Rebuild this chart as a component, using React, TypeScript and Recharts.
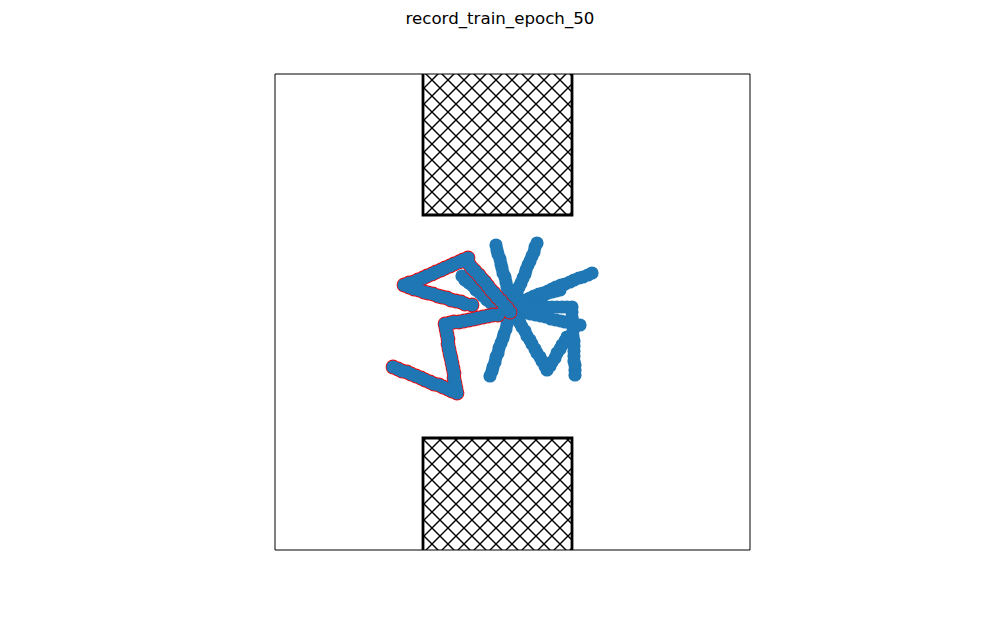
import React from "react";
import { ScatterChart, Scatter, XAxis, YAxis, ReferenceArea } from "recharts";

const TITLE = "record_train_epoch_50";
const X_DOMAIN: [number, number] = [0, 475];
const Y_DOMAIN: [number, number] = [0, 476];

// obstacles (hatched boxes)
const obstacleX1 = [148, 148];
const obstacleX2 = [297, 297];
const obstacleY1 = [335, -4];
const obstacleY2 = [480, 112];

// blue trajectories
const armUp1: [number, number][] = [[237,245],[236,250],[235,254],[233,259],[232,263],[231,268],[230,273],[228,277],[227,282],[226,286],[225,291],[223,296],[222,300],[221,305]];
const armUp2: [number, number][] = [[239,249],[241,254],[242,258],[244,263],[246,267],[248,272],[250,276],[251,280],[253,285],[255,289],[257,294],[259,298],[260,303],[262,307]];
const armUpRight1: [number, number][] = [[241,247],[246,249],[250,250],[255,252],[259,254],[264,256],[268,257],[273,259],[277,261],[281,263],[286,265],[290,266],[295,268],[299,270],[304,272],[308,273],[313,275],[317,277]];
const armUpRight2: [number, number][] = [[241,246],[245,248],[249,249],[253,250],[257,251],[261,253],[265,254],[269,255],[273,257],[277,258],[281,259],[285,260]];
const armDownLeft: [number, number][] = [[237,240],[235,235],[234,231],[232,226],[231,221],[229,216],[228,212],[226,207],[224,202],[223,197],[221,193],[220,188],[218,183],[217,179],[215,174]];
const armRight: [number, number][] = [[242,239],[247,238],[252,237],[256,236],[261,235],[266,234],[271,233],[276,231],[281,230],[286,229],[290,228],[295,227],[300,226],[305,225]];
const armRightDown: [number, number][] = [[242,242],[247,242],[252,242],[257,242],[262,242],[267,243],[272,243],[277,243],[282,243],[287,243],[292,243],[297,243],[297,238],[297,233],[298,228],[298,224],[298,219],[298,214],[299,209],[299,204],[299,199],[299,194],[299,189],[300,185],[300,180],[300,175]];
const armV: [number, number][] = [[240,236],[242,231],[245,227],[247,223],[250,219],[252,214],[255,210],[257,206],[260,201],[262,197],[265,193],[267,189],[270,184],[272,180],[275,184],[277,188],[280,192],[282,197],[285,201],[287,205],[290,209],[292,213]];
const armUpLeft: [number, number][] = [[230,234],[226,237],[223,240],[219,244],[216,247],[212,250],[208,254],[205,257],[201,260],[198,264],[194,267],[190,270],[187,274]];

// red-edged trajectories
const redA: [number, number][] = [[235,238],[232,242],[229,245],[226,249],[222,253],[219,257],[216,260],[213,264],[210,268],[207,271],[204,275],[200,279],[197,282],[194,286],[193,292],
  [188,290],[184,288],[179,286],[175,284],[170,282],[166,280],[161,278],[157,276],[152,274],[148,272],[143,270],[139,268],[134,267],[129,265],
  [134,263],[139,261],[144,260],[149,258],[153,257],[158,256],[163,254],[167,253],[172,252],[176,250],[181,249],[186,248],[190,246],[197,245]];
const redB: [number, number][] = [[223,235],[218,235],[213,234],[208,233],[203,232],[199,231],[194,230],[189,229],[184,228],[179,228],[175,227],[170,226],
  [171,221],[172,216],[173,211],[173,206],[174,201],[175,196],[176,192],[177,187],[178,182],[179,177],[179,172],[180,167],[181,162],[182,157],
  [177,159],[173,161],[168,163],[164,165],[159,166],[155,168],[150,170],[146,172],[141,174],[136,176],[132,178],[127,179],[123,181],[118,183]];

const blueArms = [armUp1, armUp2, armUpRight1, armUpRight2, armDownLeft, armRight, armRightDown, armV, armUpLeft];
const redArms = [redB, redA];
const blueData = blueArms.flat().map(([x, y]) => ({ x, y }));
const redData = redArms.flat().map(([x, y]) => ({ x, y }));

const BLUE = "#1f77b4";

const BlueDot = (props: any) => <circle cx={props.cx} cy={props.cy} r={6.6} fill={BLUE} />;
const RedEdge = (props: any) => <circle cx={props.cx} cy={props.cy} r={7.4} fill="#ff0000" />;

export default function App() {
  return (
    <div style={{ position: "absolute", left: 0, top: 0, width: 1000, height: 618, background: "#fff" }}>
      <svg width={0} height={0} style={{ position: "absolute" }}>
        <defs>
          <pattern id="xhatch" patternUnits="userSpaceOnUse" width={16} height={16}>
            <rect x={0} y={0} width={16} height={16} fill="#fff" />
            <path
              d="M0,0 L16,16 M16,0 L0,16 M-2,2 L2,-2 M14,18 L18,14 M-2,14 L2,18 M14,-2 L18,2"
              stroke="#000"
              strokeWidth={1.4}
              fill="none"
            />
          </pattern>
        </defs>
      </svg>
      <div
        style={{
          position: "absolute",
          left: 0,
          top: 11,
          width: 1000,
          textAlign: "center",
          fontFamily: "'DejaVu Sans', sans-serif",
          fontSize: 16.67,
          lineHeight: 1,
          color: "#000",
        }}
      >
        {TITLE}
      </div>
      <ScatterChart width={1000} height={618} margin={{ top: 74, right: 250, bottom: 68, left: 275 }}>
        <XAxis type="number" dataKey="x" domain={X_DOMAIN} hide allowDataOverflow />
        <YAxis type="number" dataKey="y" domain={Y_DOMAIN} hide allowDataOverflow />
        {obstacleX1.map((x1, i) => (
          <ReferenceArea
            key={i}
            x1={x1}
            x2={obstacleX2[i]}
            y1={obstacleY1[i]}
            y2={obstacleY2[i]}
            fill="url(#xhatch)"
            fillOpacity={1}
            stroke="#000"
            strokeWidth={2.8}
            ifOverflow="hidden"
          />
        ))}
        <Scatter data={blueData} shape={BlueDot} isAnimationActive={false} />
        <Scatter data={redData} shape={RedEdge} isAnimationActive={false} />
        <Scatter data={redData} shape={BlueDot} isAnimationActive={false} />
        <ReferenceArea
          x1={X_DOMAIN[0]}
          x2={X_DOMAIN[1]}
          y1={Y_DOMAIN[0]}
          y2={Y_DOMAIN[1]}
          fill="none"
          fillOpacity={0}
          stroke="#000"
          strokeWidth={1}
          ifOverflow="visible"
        />
      </ScatterChart>
    </div>
  );
}
